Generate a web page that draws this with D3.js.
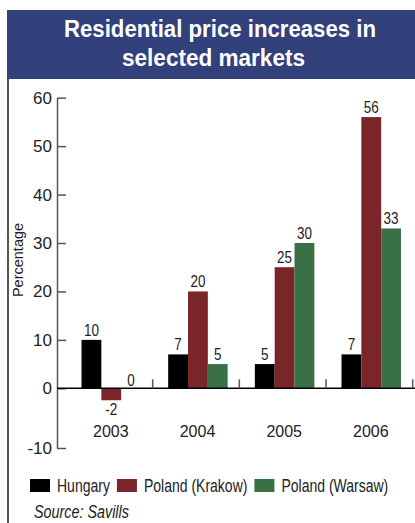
<!DOCTYPE html>
<html lang="en">
<head>
    <meta charset="UTF-8">
    <title>Residential price increases in selected markets</title>
    <script src="https://d3js.org/d3.v7.min.js"></script>
    <style>
        body { margin: 0; background: #fff; }
        svg text { font-family: "Liberation Sans", Arial, sans-serif; }
        .axis text { font-size: 17px; fill: #222; }
        .axis path, .axis line { stroke: #555; stroke-width: 1.5; }
    </style>
</head>
<body>
    <svg width="415" height="523"></svg>

    <script>
        // Data
        const years = ["2003", "2004", "2005", "2006"];
        const series = ["Hungary", "Poland (Krakow)", "Poland (Warsaw)"];
        const hungary = [10, 7, 5, 7];
        const krakow = [-2, 20, 25, 56];
        const warsaw = [0, 5, 30, 33];
        const yTicks = [-10, 0, 10, 20, 30, 40, 50, 60];
        const colors = ["#000000", "#7a2629", "#3a7045"];

        const values = [hungary, krakow, warsaw];

        const svg = d3.select("svg");

        // no narrow font installed, so squeeze the text horizontally
        function condense(sel, k) {
            sel.each(function () {
                const w = this.getComputedTextLength();
                d3.select(this).attr("textLength", w * k).attr("lengthAdjust", "spacingAndGlyphs");
            });
        }

        // Header banner
        svg.append("rect")
            .attr("x", 7).attr("y", 10)
            .attr("width", 408).attr("height", 69)
            .attr("fill", "#32407c");

        const title = svg.append("text")
            .attr("fill", "#fff")
            .attr("font-weight", "bold")
            .attr("font-size", 23);
        title.append("tspan").attr("x", 64).attr("y", 37)
            .attr("textLength", 312).attr("lengthAdjust", "spacingAndGlyphs")
            .text("Residential price increases in");
        title.append("tspan").attr("x", 122).attr("y", 66)
            .attr("textLength", 183).attr("lengthAdjust", "spacingAndGlyphs")
            .text("selected markets");

        // left frame line
        svg.append("line")
            .attr("x1", 8).attr("x2", 8)
            .attr("y1", 79).attr("y2", 523)
            .attr("stroke", "#555").attr("stroke-width", 2);

        // Scales
        const x = d3.scaleBand()
            .domain(years)
            .range([66, 412.7]);

        const xs = d3.scaleBand()
            .domain(series)
            .range([15.5, 75]);

        // piecewise: negative side is drawn a little taller
        const y = d3.scaleLinear()
            .domain([-10, 0, 60])
            .range([448, 388.3, 97.7]);

        // Y axis, ticks pointing inwards
        svg.append("g")
            .attr("class", "axis")
            .attr("transform", "translate(57,0)")
            .call(d3.axisLeft(y).tickValues(yTicks).tickFormat(d => String(d))
                .tickSizeInner(-9).tickSizeOuter(0).tickPadding(5));

        // Bars
        const groups = svg.selectAll(".year")
            .data(years)
            .enter().append("g")
            .attr("class", "year")
            .attr("transform", d => `translate(${x(d)},0)`);

        groups.selectAll("rect")
            .data((d, i) => series.map((s, j) => ({ s, v: values[j][i], c: colors[j] })))
            .enter().append("rect")
            .attr("x", d => xs(d.s))
            .attr("width", xs.bandwidth())
            .attr("y", d => y(Math.max(0, d.v)))
            .attr("height", d => Math.abs(y(d.v) - y(0)))
            .attr("fill", d => d.c);

        // Value labels
        groups.selectAll(".val")
            .data((d, i) => series.map((s, j) => ({ s, v: values[j][i] })))
            .enter().append("text")
            .attr("class", "val")
            .attr("font-size", 16)
            .attr("fill", "#222")
            .attr("text-anchor", "middle")
            .attr("x", d => xs(d.s) + xs.bandwidth() / 2)
            .attr("y", d => d.v < 0 ? y(d.v) + 15 : y(d.v) - (d.v === 0 ? 2 : 4))
            .text(d => String(d.v))
            .call(condense, 0.84);

        // Zero line
        svg.append("line")
            .attr("x1", 57).attr("x2", 415)
            .attr("y1", y(0)).attr("y2", y(0))
            .attr("stroke", "#000").attr("stroke-width", 1.5);

        // small ticks between year groups
        svg.selectAll(".sep")
            .data(years)
            .enter().append("line")
            .attr("class", "sep")
            .attr("x1", d => x(d) + x.bandwidth()).attr("x2", d => x(d) + x.bandwidth())
            .attr("y1", y(0) - 9).attr("y2", y(0))
            .attr("stroke", "#555").attr("stroke-width", 1.5);

        // Year labels
        const xAxis = svg.append("g")
            .attr("class", "axis")
            .attr("transform", `translate(1.5,${y(0)})`)
            .call(d3.axisBottom(x).tickSize(0).tickPadding(37));
        xAxis.select(".domain").remove();
        xAxis.selectAll("text").style("font-size", "16px");

        // Y axis title
        svg.append("text")
            .attr("font-size", 14.5)
            .attr("fill", "#222")
            .attr("text-anchor", "middle")
            .attr("transform", "translate(23,260) rotate(-90)")
            .text("Percentage");

        // Legend
        let lx = 30;
        series.forEach((s, i) => {
            svg.append("rect")
                .attr("x", lx).attr("y", 479)
                .attr("width", 20).attr("height", 13)
                .attr("fill", colors[i]);
            const t = svg.append("text")
                .attr("font-size", 17.5)
                .attr("fill", "#222")
                .attr("x", lx + 27).attr("y", 492)
                .text(s)
                .call(condense, 0.8);
            lx += 27 + +t.attr("textLength") + 7;
        });

        // Source
        svg.append("text")
            .attr("font-size", 17.5)
            .attr("font-style", "italic")
            .attr("fill", "#222")
            .attr("x", 34).attr("y", 518)
            .text("Source: Savills")
            .call(condense, 0.82);
    </script>
</body>
</html>
